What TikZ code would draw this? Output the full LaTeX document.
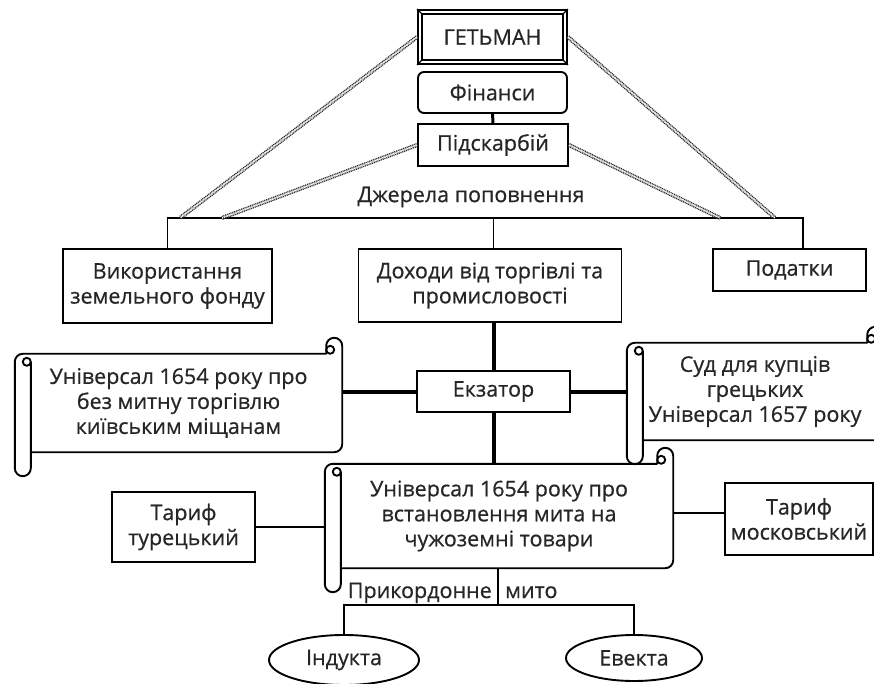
\documentclass[tikz,border=0pt]{standalone}
\usepackage{fontspec}
\setmainfont{Open Sans}[FakeBold=0.6]
\usetikzlibrary{calc,shapes.geometric}

% scroll outline drawn around a named body node (roll radius 8)
\newcommand\scrolloutline[1]{%
  \draw[scrollline] let \p1=(#1.north west), \p2=(#1.south east) in
    (\x1+16pt,\y2) -- (\x2-8pt,\y2) arc[start angle=-90,end angle=0,radius=8pt]
    -- (\x2,\y1+8pt) arc[start angle=0,end angle=180,radius=8pt]
    -- (\x2-16pt,\y1) -- (\x1+8pt,\y1) arc[start angle=90,end angle=180,radius=8pt]
    -- (\x1,\y2-16pt) arc[start angle=180,end angle=360,radius=8pt]
    -- (\x1+16pt,\y1-8pt);
  \draw[scrollline] let \p1=(#1.north west), \p2=(#1.south east) in
    (\x2-12pt,\y1+4pt) circle[radius=4pt]
    (\x1+12pt,\y1-8pt) circle[radius=4pt];
}

\begin{document}
\begin{tikzpicture}[x=1pt,y=1pt,
  every node/.style={font=\fontsize{21.5}{25}\selectfont, text=black!85, align=center, inner sep=0pt},
  box/.style={draw=black, line width=1.9pt, rectangle},
  rbox/.style={box, rounded corners=6pt},
  ell/.style={draw=black, line width=1.9pt, ellipse},
  scrollbody/.style={rectangle},
  scrollline/.style={draw=black, line width=1.9pt, line join=round},
  conn/.style={draw=black, line width=1.9pt},
  heavy/.style={draw=black, line width=4pt},
  dline/.style={draw=black!85, line width=1.3pt, double=white, double distance=1.5pt,
                dash pattern=on 1.1pt off 0.8pt}]

\useasboundingbox (0,0) rectangle (874,683);
\clip (0,0) rectangle (874,683);
\fill[white] (0,0) rectangle (874,683);

% --- top of the hierarchy ---
\node[box, minimum width=149, minimum height=54] (hetman) at (492.5,646) {ГЕТЬМАН};
\draw[line width=1.4pt] ($(hetman.north west)+(5,-5)$) rectangle ($(hetman.south east)+(-5,5)$);
\draw[line width=1.2pt] (hetman.north west) -- ++(5,-5)
  (hetman.north east) -- ++(-5,-5)
  (hetman.south west) -- ++(5,5)
  (hetman.south east) -- ++(-5,5);

\node[rbox, minimum width=149, minimum height=41] (fin) at (492.5,590.5) {Фінанси};
\node[box, minimum width=150, minimum height=42] (pidsk) at (493,538) {Підскарбій};
\draw[line width=3pt] (fin) -- (pidsk);

% --- sources of income ---
\node (dzh) at (471,486) {Джерела поповнення};
\coordinate (hr) at (803,465);
\coordinate (g1) at (180,465);
\coordinate (g2) at (222,465);
\coordinate (g3) at (720,465);
\coordinate (g4) at (775,465);

\node[box, minimum width=209, minimum height=74] (land) at (167.5,397) {Використання\\земельного фонду};
\node[box, minimum width=263, minimum height=73] (trade) at (490,397.5) {Доходи від торгівлі та\\промисловості};
\node[box, minimum width=153, minimum height=42] (tax) at (789.5,413) {Податки};

\node[box, minimum width=153, minimum height=41] (ekz) at (493.5,291.5) {Екзатор};

\draw[conn] (land.north) |- (hr) -- (hr |- tax.north);
\draw[conn] (ekz.north |- trade.north) -- (ekz.north |- hr);

\draw[dline] (hetman.west) -- (g1);
\draw[dline] (pidsk.west) -- (g2);
\draw[dline] (pidsk.east) -- (g3);
\draw[dline] (hetman.east) -- (g4);

% --- universals (scrolls) ---
\node[scrollbody, minimum width=327, minimum height=98] (u1) at (178.5,280)
  {Універсал 1654 року про\\без митну торгівлю\\київським міщанам};
\scrolloutline{u1}

\node[scrollbody, minimum width=256, minimum height=97] (u2) at (755,291.5)
  {Суд для купців\\грецьких\\Універсал 1657 року};
\scrolloutline{u2}

\node[scrollbody, minimum width=348, minimum height=104] (u3) at (499,167)
  {Універсал 1654 року про\\встановлення мита на\\чужоземні товари};
\scrolloutline{u3}

\draw[heavy] (trade.south -| ekz.north) -- (ekz.north);
\draw[heavy] (ekz.west) -- (ekz.west -| u1.east);
\draw[heavy] (ekz.east) -- (ekz.east -| u2.west);
\draw[heavy] (ekz.south) -- (ekz.south |- u3.north);

% --- tariffs ---
\node[box, minimum width=143, minimum height=70] (tur) at (183.5,156) {Тариф\\турецький};
\node[box, minimum width=148, minimum height=72] (mos) at (799,164) {Тариф\\московський};
\coordinate (mosin) at ($(mos.west)+(0,6)$);
\draw[conn] (tur.east) -- (tur.east -| u3.west);
\draw[conn] (mosin -| u3.east) -- (mosin);

% --- border duty ---
\coordinate (pm) at (498,78);
\node[anchor=base east] (pml1) at (492,85) {Прикордонне};
\node[anchor=base west] (pml2) at (505,85) {мито};
\node[ell, minimum width=150, minimum height=50] (ind) at (344,23) {Індукта};
\node[ell, minimum width=136, minimum height=46] (ev) at (634,25) {Евекта};
\draw[conn] (u3.south -| pm) -- (pm);
\draw[conn] (ind.north) |- (pm) -| (ev.north);

\end{tikzpicture}
\end{document}
